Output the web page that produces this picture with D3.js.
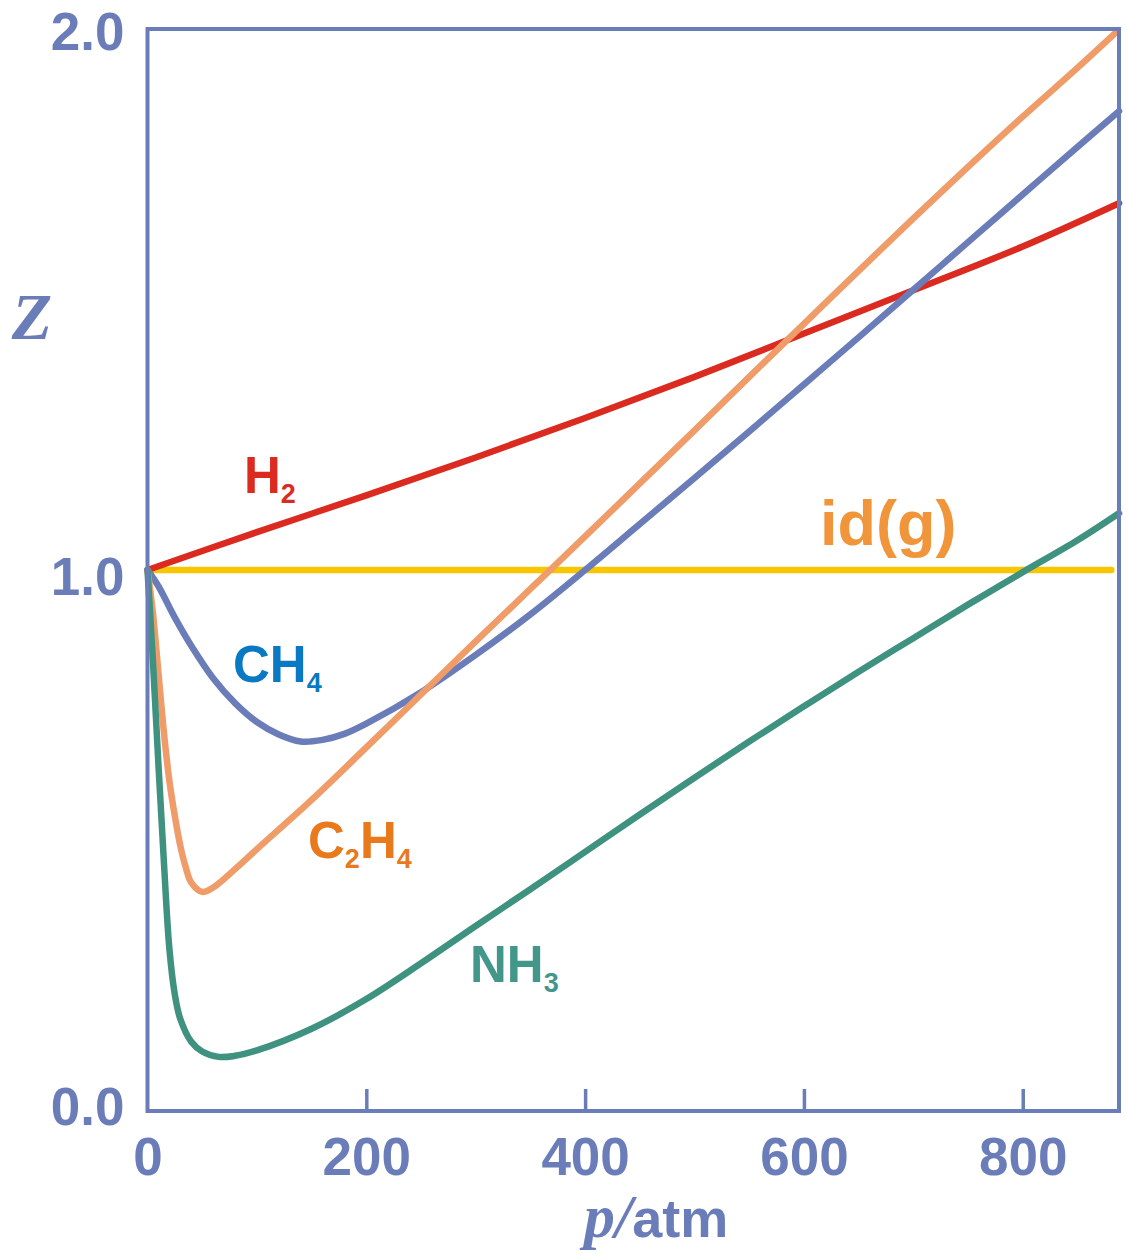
<!DOCTYPE html>
<html>
<head>
<meta charset="utf-8">
<script src="https://cdn.jsdelivr.net/npm/d3@7"></script>
<style>
  body { margin: 0; background: #fff; }
  .tick text { font-family: "Liberation Sans", Arial, sans-serif; font-weight: bold; }
</style>
</head>
<body>
<div id="chart"></div>
<script>
var svgWidth = 1126;
var svgHeight = 1257;

// plot frame in page pixels
var margin = { top: 29, right: 7, bottom: 146, left: 147.5 };
var width = svgWidth - margin.left - margin.right;
var height = svgHeight - margin.top - margin.bottom;

// data (p in atm, Z)
var h2P = [0, 100, 200, 300, 400, 500, 600, 700, 800, 888];
var h2Z = [1.0, 1.070, 1.138, 1.208, 1.281, 1.357, 1.437, 1.517, 1.598, 1.678];

var ch4P = [0, 10, 25, 40, 60, 80, 100, 120, 140, 160, 180, 200, 250, 300, 350, 400, 450, 500, 550, 600, 650, 700, 750, 800, 850, 888];
var ch4Z = [1.0, 0.970, 0.912, 0.860, 0.800, 0.754, 0.719, 0.696, 0.683, 0.686, 0.697, 0.716, 0.774, 0.843, 0.918, 1.000, 1.085, 1.170, 1.256, 1.343, 1.430, 1.518, 1.606, 1.694, 1.782, 1.848];

var c2h4P = [0, 5, 10, 15, 20, 25, 30, 35, 40, 50, 60, 80, 100, 150, 200, 250, 300, 350, 400, 450, 500, 550, 600, 650, 700, 750, 800, 850, 886];
var c2h4Z = [1.0, 0.92, 0.81, 0.70, 0.61, 0.545, 0.490, 0.450, 0.422, 0.405, 0.413, 0.447, 0.484, 0.575, 0.672, 0.770, 0.868, 0.965, 1.062, 1.160, 1.258, 1.357, 1.455, 1.553, 1.650, 1.745, 1.838, 1.928, 1.995];

var nh3P = [0, 5, 10, 15, 20, 25, 30, 40, 50, 65, 80, 100, 150, 200, 250, 300, 350, 400, 450, 500, 550, 600, 650, 700, 750, 800, 850, 888];
var nh3Z = [1.0, 0.83, 0.64, 0.46, 0.30, 0.215, 0.170, 0.128, 0.110, 0.100, 0.102, 0.112, 0.152, 0.207, 0.273, 0.342, 0.410, 0.479, 0.548, 0.616, 0.683, 0.748, 0.812, 0.874, 0.936, 0.996, 1.055, 1.105];

var idealP = [0, 881];
var idealZ = [1.0, 1.0];

var xTicks = [0, 200, 400, 600, 800];
var yTicks = [0, 1, 2];

var axisColor = "#6b7db8";

var svg = d3.select("#chart")
  .append("svg")
  .attr("width", svgWidth)
  .attr("height", svgHeight);

var chartGroup = svg.append("g")
  .attr("transform", `translate(${margin.left}, ${margin.top})`);

var xScale = d3.scaleLinear().domain([0, 888]).range([0, width]);
var yScale = d3.scaleLinear().domain([0, 2]).range([height, 0]);

var zip = (ps, zs) => ps.map((p, i) => ({ p: p, z: zs[i] }));

var line = d3.line()
  .x(d => xScale(d.p))
  .y(d => yScale(d.z))
  .curve(d3.curveCatmullRom.alpha(0.5));

// curves, in drawing order
var series = [
  { data: zip(idealP, idealZ), color: "#f7c600" },
  { data: zip(h2P, h2Z), color: "#db2a1f" },
  { data: zip(ch4P, ch4Z), color: "#6b7db8" },
  { data: zip(c2h4P, c2h4Z), color: "#f09c69" },
  { data: zip(nh3P, nh3Z), color: "#3f9180" }
];

chartGroup.selectAll("path.curve")
  .data(series)
  .enter()
  .append("path")
  .attr("class", "curve")
  .attr("d", d => line(d.data))
  .attr("fill", "none")
  .attr("stroke", d => d.color)
  .attr("stroke-width", 6.5)
  .attr("stroke-linejoin", "round")
  .attr("stroke-linecap", "round");

// axes
var bottomAxis = d3.axisBottom(xScale)
  .tickValues(xTicks)
  .tickFormat(d3.format("d"))
  .tickSizeInner(-22)
  .tickSizeOuter(0)
  .tickPadding(26);

var leftAxis = d3.axisLeft(yScale)
  .tickValues(yTicks)
  .tickFormat(d3.format(".1f"))
  .tickSize(0)
  .tickPadding(23);

var gx = chartGroup.append("g")
  .attr("transform", `translate(0, ${height})`)
  .call(bottomAxis);
gx.select(".domain").remove();
gx.selectAll("line").attr("stroke", axisColor).attr("stroke-width", 3.5);
gx.selectAll("text").attr("fill", axisColor).attr("font-size", 53);
gx.selectAll(".tick").filter(d => d === 0).select("line").remove();

var gy = chartGroup.append("g")
  .call(leftAxis);
gy.select(".domain").remove();
// nudge the y labels the way the original sits them
var yNudge = { 0: -3, 1: 8, 2: 4 };
gy.selectAll("text")
  .attr("fill", axisColor)
  .attr("font-size", 53)
  .attr("y", d => yNudge[d]);

// frame
chartGroup.append("rect")
  .attr("x", 0)
  .attr("y", 0)
  .attr("width", width)
  .attr("height", height)
  .attr("fill", "none")
  .attr("stroke", axisColor)
  .attr("stroke-width", 4);

// axis titles
svg.append("text")
  .attr("x", 32)
  .attr("y", 339)
  .attr("text-anchor", "middle")
  .attr("font-family", "'Liberation Serif', 'Times New Roman', serif")
  .attr("font-style", "italic")
  .attr("font-weight", "bold")
  .attr("font-size", 66)
  .attr("fill", axisColor)
  .text("Z");

var xTitle = svg.append("text")
  .attr("x", 584)
  .attr("y", 1237)
  .attr("fill", axisColor);
xTitle.append("tspan")
  .attr("font-family", "'Liberation Serif', 'Times New Roman', serif")
  .attr("font-style", "italic")
  .attr("font-weight", "bold")
  .attr("font-size", 62)
  .text("p/");
xTitle.append("tspan")
  .attr("font-family", "'Liberation Sans', Arial, sans-serif")
  .attr("font-weight", "bold")
  .attr("font-size", 54)
  .text("atm");

// curve labels
var labels = [
  { x: 244, y: 493, main: "H", sub: "2", color: "#db2a1f" },
  { x: 233, y: 682, main: "CH", sub: "4", color: "#0a79c3" },
  { x: 308, y: 858, main: "C", sub: "2", tail: "H", sub2: "4", color: "#e8791c" },
  { x: 470, y: 982, main: "NH", sub: "3", color: "#43968a" }
];

labels.forEach(function(l) {
  var t = svg.append("text")
    .attr("x", l.x)
    .attr("y", l.y)
    .attr("fill", l.color)
    .attr("font-family", "'Liberation Sans', Arial, sans-serif")
    .attr("font-weight", "bold")
    .attr("font-size", 51);
  t.append("tspan").text(l.main);
  t.append("tspan").attr("font-size", 27).attr("dy", 10).text(l.sub);
  if (l.tail) {
    t.append("tspan").attr("dy", -10).text(l.tail);
    t.append("tspan").attr("font-size", 27).attr("dy", 10).text(l.sub2);
  }
});

svg.append("text")
  .attr("x", 820)
  .attr("y", 545)
  .attr("fill", "#f0953a")
  .attr("font-family", "'Liberation Sans', Arial, sans-serif")
  .attr("font-weight", "bold")
  .attr("font-size", 63)
  .text("id(g)");
</script>
</body>
</html>
